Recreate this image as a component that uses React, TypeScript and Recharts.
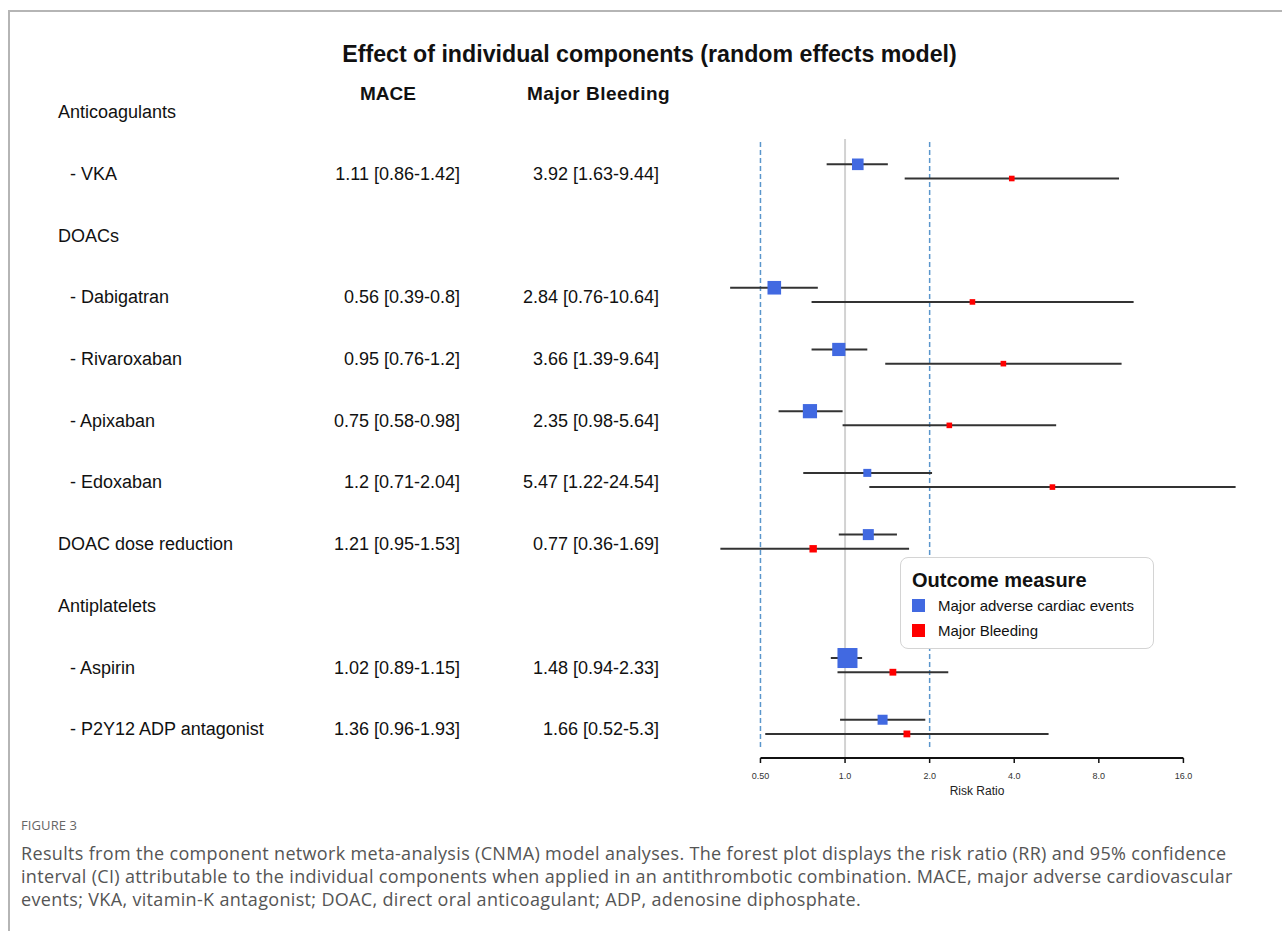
import React from "react"
import {
  ComposedChart,
  ErrorBar,
  Legend,
  ReferenceLine,
  Scatter,
  XAxis,
  YAxis,
} from "recharts"

// rows of the forest plot, top to bottom
const rowLabels = [
  "Anticoagulants",
  "- VKA",
  "DOACs",
  "- Dabigatran",
  "- Rivaroxaban",
  "- Apixaban",
  "- Edoxaban",
  "DOAC dose reduction",
  "Antiplatelets",
  "- Aspirin",
  "- P2Y12 ADP antagonist",
]

// MACE risk ratio with 95% CI (null = group heading)
const maceRR = [null, 1.11, null, 0.56, 0.95, 0.75, 1.2, 1.21, null, 1.02, 1.36]
const maceLow = [null, 0.86, null, 0.39, 0.76, 0.58, 0.71, 0.95, null, 0.89, 0.96]
const maceHigh = [null, 1.42, null, 0.8, 1.2, 0.98, 2.04, 1.53, null, 1.15, 1.93]
// relative box weights (largest = 1)
const maceWeight = [null, 0.58, null, 0.68, 0.66, 0.71, 0.4, 0.55, null, 1, 0.5]

// Major bleeding risk ratio with 95% CI
const bleedRR = [null, 3.92, null, 2.84, 3.66, 2.35, 5.47, 0.77, null, 1.48, 1.66]
const bleedLow = [null, 1.63, null, 0.76, 1.39, 0.98, 1.22, 0.36, null, 0.94, 0.52]
const bleedHigh = [null, 9.44, null, 10.64, 9.64, 5.64, 24.54, 1.69, null, 2.33, 5.3]
const bleedWeight = [null, 0.28, null, 0.28, 0.28, 0.28, 0.28, 0.37, null, 0.34, 0.34]

const xTicks = [0.5, 1, 2, 4, 8, 16]

const FONT = "'Liberation Sans', Arial, sans-serif"
const BLUE = "#4169e1"
const RED = "#ff0000"
const MAX_BOX = 20

const fmt = (v: number) => String(v)

function buildSeries(
  rr: (number | null)[],
  lo: (number | null)[],
  hi: (number | null)[],
  w: (number | null)[],
  shift: number
) {
  const out: { x: number; y: number; err: [number, number]; w: number }[] = []
  rr.forEach((v, i) => {
    if (v == null) return
    out.push({
      x: v,
      y: i + shift,
      err: [v - (lo[i] as number), (hi[i] as number) - v],
      w: w[i] as number,
    })
  })
  return out
}

const maceData = buildSeries(maceRR, maceLow, maceHigh, maceWeight, -0.15)
const bleedData = buildSeries(bleedRR, bleedLow, bleedHigh, bleedWeight, 0.08)

function BoxShape(color: string) {
  return (props: any) => {
    const { cx, cy, payload } = props
    const s = MAX_BOX * payload.w
    return <rect x={cx - s / 2} y={cy - s / 2} width={s} height={s} fill={color} />
  }
}

function RowTick(props: any) {
  const { y, payload } = props
  const i = payload.value as number
  const label = rowLabels[i]
  const sub = label.startsWith("-")
  const m = maceRR[i]
  const b = bleedRR[i]
  const common = { y, dy: "0.35em", fontSize: 18, fontFamily: FONT, fill: "#111" }
  return (
    <g>
      <text {...common} x={sub ? 70 : 58} textAnchor="start">
        {label}
      </text>
      {m != null && (
        <text {...common} x={460} textAnchor="end">
          {`${fmt(m)} [${fmt(maceLow[i] as number)}-${fmt(maceHigh[i] as number)}]`}
        </text>
      )}
      {b != null && (
        <text {...common} x={659} textAnchor="end">
          {`${fmt(b)} [${fmt(bleedLow[i] as number)}-${fmt(bleedHigh[i] as number)}]`}
        </text>
      )}
    </g>
  )
}

function LegendBox(props: any) {
  const items = (props.payload || []).filter((p: any) => p.value)
  return (
    <div
      style={{
        position: "relative",
        width: 254,
        height: 92,
        boxSizing: "border-box",
        border: "1.5px solid #d4d4d4",
        borderRadius: 8,
        background: "#fff",
        fontFamily: FONT,
        color: "#111",
      }}
    >
      <div style={{ position: "absolute", left: 11, top: 12, fontSize: 20, fontWeight: 700, lineHeight: 1 }}>
        Outcome measure
      </div>
      {items.map((it: any, k: number) => (
        <React.Fragment key={it.value}>
          <div
            style={{
              position: "absolute",
              left: 11,
              top: 41 + k * 25,
              width: 13,
              height: 13,
              background: it.color,
            }}
          />
          <div style={{ position: "absolute", left: 37, top: 40 + k * 25, fontSize: 15, lineHeight: 1 }}>
            {it.value}
          </div>
        </React.Fragment>
      ))}
    </div>
  )
}

const captionLines = [
  "Results from the component network meta-analysis (CNMA) model analyses. The forest plot displays the risk ratio (RR) and 95% confidence",
  "interval (CI) attributable to the individual components when applied in an antithrombotic combination. MACE, major adverse cardiovascular",
  "events; VKA, vitamin-K antagonist; DOAC, direct oral anticoagulant; ADP, adenosine diphosphate.",
]

export default function App() {
  return (
    <div
      style={{
        position: "absolute",
        left: 0,
        top: 0,
        width: 1282,
        height: 931,
        background: "#fff",
        overflow: "hidden",
      }}
    >
      {/* figure frame */}
      <div style={{ position: "absolute", left: 9, top: 10, right: 0, height: 1.5, background: "#b5b5b5" }} />
      <div style={{ position: "absolute", left: 8, top: 10, bottom: 0, width: 1.5, background: "#b5b5b5" }} />

      <div
        style={{
          position: "absolute",
          left: 0,
          width: 1299,
          top: 43,
          textAlign: "center",
          fontFamily: FONT,
          fontWeight: 700,
          fontSize: 23.2,
          lineHeight: 1,
          color: "#111",
        }}
      >
        Effect of individual components (random effects model)
      </div>
      <div style={{ position: "absolute", left: 360, top: 84, fontFamily: FONT, fontWeight: 700, fontSize: 19, lineHeight: 1, color: "#111" }}>
        MACE
      </div>
      <div style={{ position: "absolute", left: 527, top: 84, fontFamily: FONT, fontWeight: 700, fontSize: 19, lineHeight: 1, color: "#111", letterSpacing: 0.5 }}>
        Major Bleeding
      </div>

      <div style={{ position: "absolute", left: 0, top: 0 }}>
        <ComposedChart width={1282} height={803} margin={{ top: 81, right: 14, bottom: 5, left: 0 }}>
          <XAxis
            type="number"
            dataKey="x"
            scale="log"
            domain={[0.32, 32]}
            allowDataOverflow
            ticks={xTicks}
            interval={0}
            tickFormatter={(v: number) => (v < 1 ? v.toFixed(2) : v.toFixed(1))}
            axisLine={false}
            tickLine={{ stroke: "#111", strokeWidth: 1.5 }}
            tickSize={5}
            tickMargin={10}
            height={40}
            tick={{ fontSize: 9, fill: "#333", fontFamily: FONT }}
            label={(p: any) => {
              const vb = p.viewBox || { x: 706, y: 758, width: 562 }
              return (
                <text x={vb.x + vb.width / 2 - 10} y={vb.y + 37} textAnchor="middle" fontSize={12} fontFamily={FONT} fill="#222">
                  Risk Ratio
                </text>
              )
            }}
          />
          <YAxis
            type="number"
            dataKey="y"
            domain={[-0.5, 10.47]}
            allowDataOverflow
            reversed
            ticks={rowLabels.map((_, i) => i)}
            interval={0}
            width={706}
            axisLine={false}
            tickLine={false}
            tick={<RowTick />}
          />

          <ReferenceLine
            segment={[{ x: 1, y: 0.44 }, { x: 1, y: 10.47 }]}
            stroke="#d2d2d2"
            strokeWidth={2}
            ifOverflow="visible"
          />
          <ReferenceLine
            segment={[{ x: 0.5, y: 0.49 }, { x: 0.5, y: 10.31 }]}
            stroke="#5a96cc"
            strokeWidth={1.5}
            strokeDasharray="5 3"
            ifOverflow="visible"
          />
          <ReferenceLine
            segment={[{ x: 2, y: 0.49 }, { x: 2, y: 10.31 }]}
            stroke="#5a96cc"
            strokeWidth={1.5}
            strokeDasharray="5 3"
            ifOverflow="visible"
          />
          <ReferenceLine
            segment={[{ x: 0.5, y: 10.47 }, { x: 16, y: 10.47 }]}
            stroke="#111"
            strokeWidth={2}
            ifOverflow="visible"
          />

          <Scatter
            name="Major Bleeding"
            data={bleedData}
            fill={RED}
            shape={BoxShape(RED)}
            isAnimationActive={false}
            legendType="square"
          >
            <ErrorBar dataKey="err" direction="x" width={0} stroke="#333" strokeWidth={2} isAnimationActive={false} />
          </Scatter>
          <Scatter
            name="Major adverse cardiac events"
            data={maceData}
            fill={BLUE}
            shape={BoxShape(BLUE)}
            isAnimationActive={false}
            legendType="square"
          >
            <ErrorBar dataKey="err" direction="x" width={0} stroke="#333" strokeWidth={2} isAnimationActive={false} />
          </Scatter>

          <Legend
            layout="vertical"
            align="center"
            verticalAlign="middle"
            content={(p: any) => {
              const order = ["Major adverse cardiac events", "Major Bleeding"]
              const payload = [...(p.payload || [])].sort(
                (a: any, b: any) => order.indexOf(a.value) - order.indexOf(b.value)
              )
              return <LegendBox payload={payload} />
            }}
            wrapperStyle={{ left: 900, top: 557, width: 254, height: 92 }}
          />
        </ComposedChart>
      </div>

      <div
        style={{
          position: "absolute",
          left: 21,
          top: 818,
          fontFamily: "'Open Sans', sans-serif",
          fontSize: 13,
          lineHeight: 1.2,
          color: "#666",
          letterSpacing: 0.1,
        }}
      >
        FIGURE 3
      </div>
      {captionLines.map((line, k) => (
        <div
          key={k}
          style={{
            position: "absolute",
            left: 21,
            top: 842 + k * 23,
            fontFamily: "'Open Sans', sans-serif",
            fontSize: 18,
            lineHeight: "22px",
            letterSpacing: 0.33,
            color: "#555",
            whiteSpace: "nowrap",
          }}
        >
          {line}
        </div>
      ))}
    </div>
  )
}
